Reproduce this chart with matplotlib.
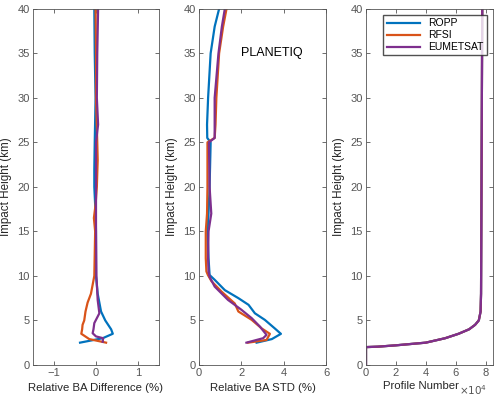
import numpy as np
import matplotlib
matplotlib.use('Agg')
import matplotlib.pyplot as plt
from matplotlib.ticker import FuncFormatter

plt.rcParams['font.family'] = ['Liberation Sans', 'DejaVu Sans']

# relative BA difference (%) vs impact height (km)
h_diff_ropp = [2.5, 3.0, 3.5, 4.0, 5.0, 6.0, 7.0, 8.0, 10, 15, 17, 20, 22, 25, 30, 35, 40]
diff_ropp = [-0.38, 0.16, 0.40, 0.36, 0.22, 0.12, 0.08, 0.04, 0.0, 0.0, -0.01, -0.04, -0.04, -0.03, -0.01, -0.03, -0.04]
h_diff_rfsi = [2.5, 2.9, 3.5, 4.0, 4.5, 5.0, 6.0, 7.0, 8.0, 10, 15, 16.5, 18, 20, 23, 25, 30, 35, 40]
diff_rfsi = [0.24, -0.16, -0.35, -0.33, -0.32, -0.28, -0.25, -0.20, -0.12, -0.04, -0.02, -0.05, -0.01, 0.02, 0.04, 0.03, 0.0, 0.0, -0.01]
h_diff_eum = [2.6, 3.0, 3.2, 3.56, 4.0, 4.7, 5.8, 7.3, 10, 15, 20, 25, 27, 30, 35, 40]
diff_eum = [0.16, 0.17, 0.0, -0.08, -0.06, -0.04, 0.08, 0.04, 0.01, 0.0, 0.0, 0.0, 0.05, 0.02, 0.03, 0.05]

# relative BA STD (%) vs impact height (km)
h_std_ropp = [2.5, 2.9, 3.49, 4.1, 5.06, 5.8, 6.75, 7.5, 8.4, 9.56, 10.1, 12, 15, 17, 20, 25, 25.5, 27, 30, 35, 38, 40]
std_ropp = [2.72, 3.44, 3.87, 3.58, 3.11, 2.64, 2.34, 1.86, 1.22, 0.74, 0.50, 0.45, 0.40, 0.45, 0.50, 0.55, 0.39, 0.38, 0.43, 0.55, 0.74, 0.95]
h_std_rfsi = [2.5, 2.8, 3.49, 4.1, 5.06, 6.0, 6.9, 8.25, 9.4, 10.1, 10.5, 12, 15, 17, 20, 25, 25.5, 27, 30, 35, 38, 40]
std_rfsi = [2.32, 3.19, 3.35, 2.96, 2.49, 1.86, 1.69, 1.06, 0.59, 0.42, 0.35, 0.32, 0.32, 0.38, 0.40, 0.40, 0.74, 0.78, 0.82, 0.95, 1.14, 1.30]
h_std_eum = [2.5, 3.0, 3.37, 4.3, 5.25, 6.2, 7.3, 8.8, 9.9, 10.5, 12, 15, 17, 20, 25, 25.5, 27, 30, 35, 38, 40]
std_eum = [2.24, 3.03, 3.19, 2.88, 2.49, 2.00, 1.37, 0.74, 0.50, 0.45, 0.43, 0.45, 0.58, 0.50, 0.47, 0.74, 0.74, 0.74, 0.92, 1.08, 1.22]

# profile numbers
h_num = [0, 2.0, 2.05, 2.2, 2.5, 3.0, 3.5, 4.0, 4.5, 5.0, 6.0, 8.0, 40]
num = [0, 0, 8000, 20000, 40000, 53000, 62000, 69000, 73000, 75500, 76700, 77000, 77800]

labels = ['ROPP', 'RFSI', 'EUMETSAT']
colors = ['#0072BD', '#D95319', '#7E2F8E']
grey = '#262626'
tgrey = '#555555'

fig = plt.figure(figsize=(5.0, 4.01), dpi=100)
bottom, height = 0.09, 0.888
ax1 = fig.add_axes([0.066, bottom, 0.252, height])
ax2 = fig.add_axes([0.398, bottom, 0.254, height])
ax3 = fig.add_axes([0.732, bottom, 0.254, height])

lw = 1.6
ax1.plot(diff_ropp, h_diff_ropp, color=colors[0], lw=lw)
ax1.plot(diff_rfsi, h_diff_rfsi, color=colors[1], lw=lw)
ax1.plot(diff_eum, h_diff_eum, color=colors[2], lw=lw)
ax1.set_xlim(-1.5, 1.5)
ax1.set_xticks([-1, 0, 1])
ax1.set_xlabel('Relative BA Difference (%)')

ax2.plot(std_ropp, h_std_ropp, color=colors[0], lw=lw)
ax2.plot(std_rfsi, h_std_rfsi, color=colors[1], lw=lw)
ax2.plot(std_eum, h_std_eum, color=colors[2], lw=lw)
ax2.set_xlim(0, 6)
ax2.set_xticks([0, 2, 4, 6])
ax2.set_xlabel('Relative BA STD (%)')
ax2.text(3.45, 35, 'PLANETIQ', ha='center', va='center', fontsize=9, color='black')

for i in range(3):
    ax3.plot(num, h_num, color=colors[i], lw=lw, label=labels[i])
ax3.set_xlim(0, 85000)
ax3.set_xticks([0, 20000, 40000, 60000, 80000])
ax3.xaxis.set_major_formatter(FuncFormatter(lambda v, p: '%g' % (v / 1e4)))
ax3.set_xlabel('Profile Number')
ax3.xaxis.set_label_coords(0.43, -0.045)
ax3.text(0.735, -0.05, r'$\times10^{4}$', transform=ax3.transAxes,
         ha='left', va='top', fontsize=7.5, color=tgrey)
ax3.legend(loc='upper right', fontsize=7.5, frameon=True, fancybox=False,
           edgecolor=grey, handlelength=3.2, borderpad=0.3, labelspacing=0.2,
           borderaxespad=0.6)

for ax in (ax1, ax2, ax3):
    ax.set_ylim(0, 40)
    ax.set_yticks(range(0, 41, 5))
    ax.set_ylabel('Impact Height (km)', fontsize=8.4, color=grey, labelpad=4)
    ax.xaxis.label.set_color(grey)
    ax.xaxis.label.set_fontsize(8.2)
    ax.xaxis.labelpad = 3
    ax.tick_params(direction='in', top=True, right=True, labelsize=8,
                   colors=tgrey, length=3, width=0.6, pad=2.5)
    for s in ax.spines.values():
        s.set_color(tgrey)
        s.set_linewidth(0.6)

fig.savefig('out.png', dpi=100)
